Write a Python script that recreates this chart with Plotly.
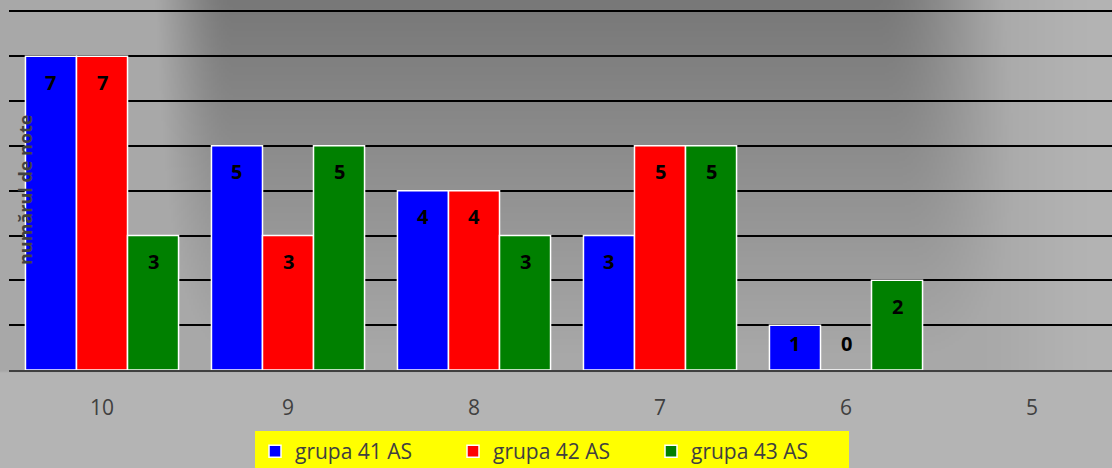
import base64
import struct
import zlib

import numpy as np
import plotly.graph_objects as go

# ---------------- data ----------------
categories = ["10", "9", "8", "7", "6", "5"]
grupa_41 = [7, 5, 4, 3, 1, None]
grupa_42 = [7, 3, 4, 5, 0, None]
grupa_43 = [3, 5, 3, 5, 2, None]
series_names = ["grupa 41 AS", "grupa 42 AS", "grupa 43 AS"]
y_title = "numărul de note"

# ---------------- style ----------------
colors = ["#0000FF", "#FF0000", "#008000"]
W, H = 1112, 468
L_M, R_M, T_M, B_M = 9, 0, 10, 98
PW, PH = W - L_M - R_M, H - T_M - B_M
BAND_PX = 186.0
BARGAP = 0.177
Y_MAX = 8.03
PX_PER_UNIT = PH / Y_MAX


def smoothstep(e0, e1, x):
    t = np.clip((x - e0) / (e1 - e0), 0, 1)
    return t * t * (3 - 2 * t)


def background_png():
    w, h = W // 2, H // 2
    xs = (np.arange(w) + 0.5) * 2
    ys = (np.arange(h) + 0.5) * 2
    X, Y = np.meshgrid(xs, ys)
    fx = smoothstep(125, 235, X) * (1 - smoothstep(870 + 0.15 * Y, 1050 + 0.1 * Y, X))
    fy = np.clip(1 - Y / 440.0, 0, 1)
    main = 60 * fx * fy
    const = 12 * (1 - smoothstep(960, 1112, X))
    dark = np.maximum(main, const)
    val = np.where(Y <= 371, 180 - dark, 180)
    img = np.clip(val, 0, 255).astype(np.uint8)
    raw = b"".join(b"\x00" + row.tobytes() for row in img)

    def chunk(tag, data):
        c = struct.pack(">I", len(data)) + tag + data
        return c + struct.pack(">I", zlib.crc32(tag + data) & 0xFFFFFFFF)

    png = (b"\x89PNG\r\n\x1a\n"
           + chunk(b"IHDR", struct.pack(">IIBBBBB", w, h, 8, 0, 0, 0, 0))
           + chunk(b"IDAT", zlib.compress(raw, 9))
           + chunk(b"IEND", b""))
    return "data:image/png;base64," + base64.b64encode(png).decode()


fig = go.Figure()
all_series = [grupa_41, grupa_42, grupa_43]
for name, vals, col in zip(series_names, all_series, colors):
    fig.add_trace(go.Bar(
        x=categories, y=vals, name=name,
        marker=dict(color=col, line=dict(color="white", width=1.5)),
        hoverinfo="skip",
    ))

bw = (1 - BARGAP) / 3
for k, vals in enumerate(all_series):
    for i, v in enumerate(vals):
        if v is None:
            continue
        if v > 0:
            shift = -min(26.0, v * PX_PER_UNIT / 2 - 4)
        else:
            shift = 27
        fig.add_annotation(
            x=i + (k - 1) * bw, y=v, xref="x", yref="y",
            text="<b>%d</b>" % v, showarrow=False, yshift=shift,
            font=dict(family="Open Sans", size=20, color="black"),
        )

fig.add_annotation(
    x=(25 - L_M) / PW, y=0.5, xref="paper", yref="paper",
    text="<b>%s</b>" % y_title, textangle=-90, showarrow=False,
    xanchor="center", yanchor="middle",
    font=dict(family="Open Sans", size=18, color="#404040"),
)

fig.add_layout_image(
    source=background_png(), xref="paper", yref="paper",
    x=-L_M / PW, y=1 + T_M / PH, sizex=W / PW, sizey=H / PH,
    xanchor="left", yanchor="top", sizing="stretch", layer="below",
)

fig.update_layout(
    width=W, height=H,
    margin=dict(l=L_M, r=R_M, t=T_M, b=B_M, autoexpand=False),
    paper_bgcolor="#B4B4B4", plot_bgcolor="rgba(0,0,0,0)",
    barmode="group", bargap=BARGAP, bargroupgap=0,
    showlegend=True,
    legend=dict(
        orientation="h", x=(255 - L_M) / PW, y=(370 - 431) / PH,
        xanchor="left", yanchor="top", bgcolor="#FFFF00",
        font=dict(family="Open Sans", size=21, color="#404040"),
        entrywidth=153, entrywidthmode="pixels", traceorder="normal",
    ),
    xaxis=dict(
        type="category", range=[-0.5, -0.5 + PW / BAND_PX],
        showline=True, linecolor="#404040", linewidth=2,
        showgrid=False, ticks="", ticklabelstandoff=18,
        tickfont=dict(family="Open Sans", size=21, color="#404040"),
        fixedrange=True,
    ),
    yaxis=dict(
        range=[0, Y_MAX], dtick=1, showgrid=True, gridcolor="black", gridwidth=2,
        zeroline=False, showticklabels=False, showline=False, fixedrange=True,
    ),
)

fig.write_html(
    "out.html",
    config={"displayModeBar": False},
    post_script="document.body.style.margin='0';document.body.style.overflow='hidden';",
)
